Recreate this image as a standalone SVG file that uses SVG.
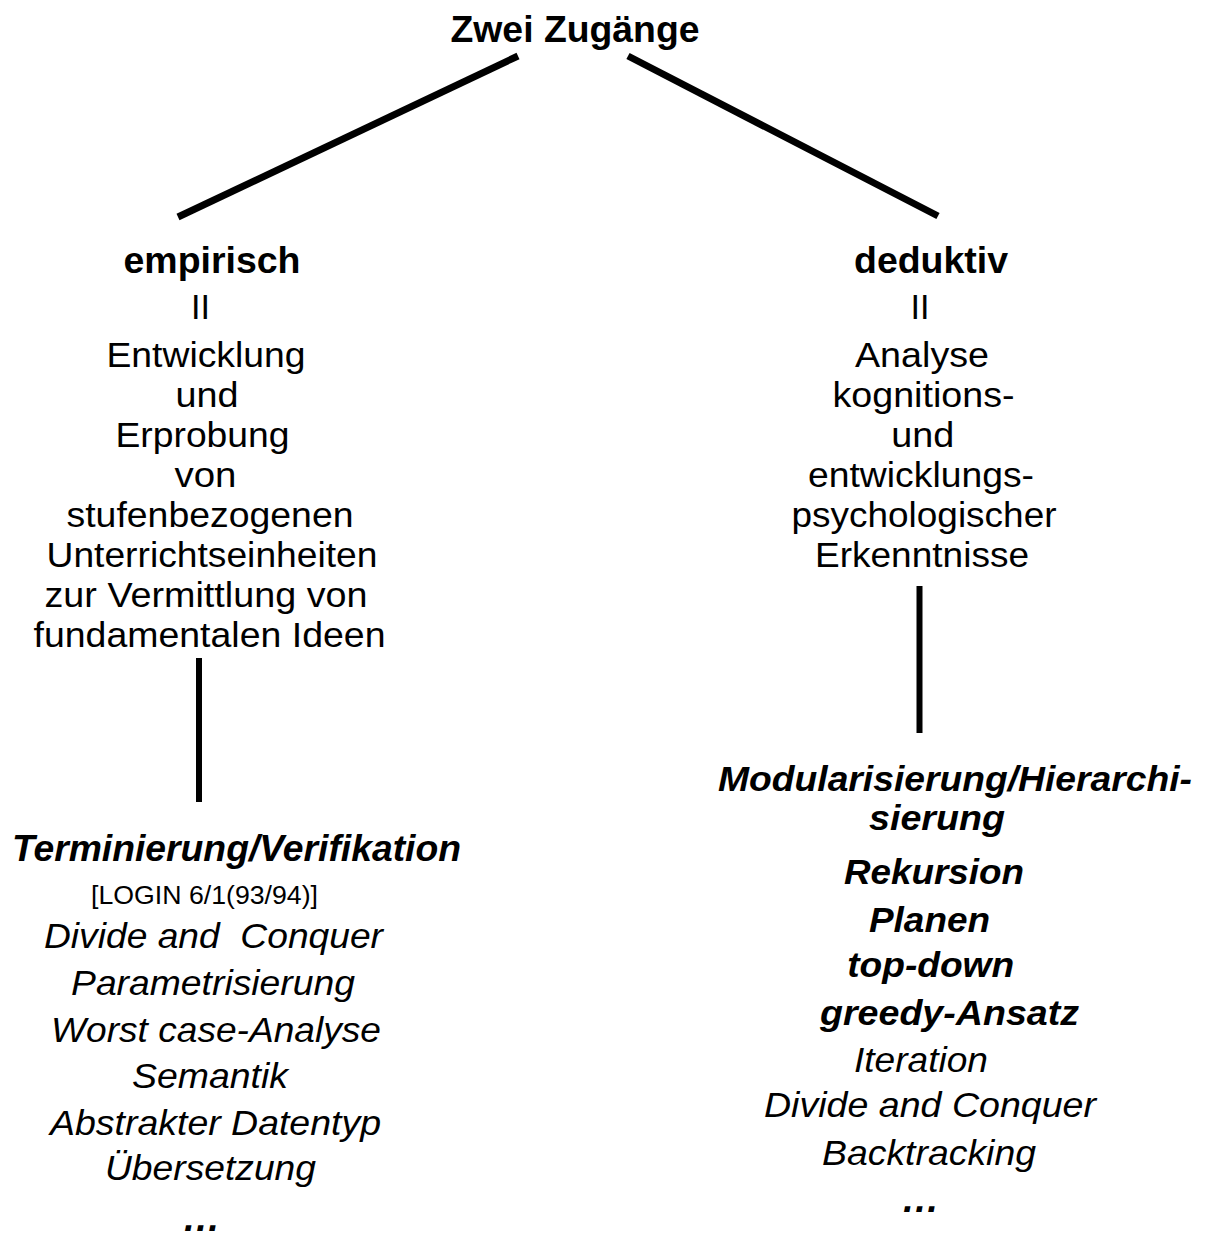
<svg xmlns="http://www.w3.org/2000/svg" width="1211" height="1239" viewBox="0 0 1211 1239">
<style>
text{font-family:"Liberation Sans",Arial,sans-serif;fill:#000;text-anchor:middle}
.h{font-weight:bold;font-size:37px}
.r{font-size:35px}
.bi{font-weight:bold;font-style:italic;font-size:35px}
.i{font-style:italic;font-size:35px}
.s{font-size:25px}
.c{stroke:#000;fill:none}
</style>
<rect width="1211" height="1239" fill="#fff"/>
<g id="connectors">
<line class="c" x1="518" y1="56" x2="178" y2="217" stroke-width="7"/>
<line class="c" x1="628" y1="56" x2="938" y2="216" stroke-width="7"/>
<line class="c" x1="199" y1="658" x2="199" y2="802" stroke-width="6"/>
<line class="c" x1="919.5" y1="586" x2="919.5" y2="733" stroke-width="6"/>
</g>
<g id="root">
<text class="h" x="575" y="42" textLength="249" lengthAdjust="spacingAndGlyphs">Zwei Zugänge</text>
</g>
<g id="empirisch">
<text class="h" x="212" y="273" textLength="177" lengthAdjust="spacingAndGlyphs">empirisch</text>
<text class="r" x="200.5" y="319" textLength="19" lengthAdjust="spacingAndGlyphs">II</text>
<text class="r" x="206" y="367" textLength="199" lengthAdjust="spacingAndGlyphs">Entwicklung</text>
<text class="r" x="207" y="407" textLength="63" lengthAdjust="spacingAndGlyphs">und</text>
<text class="r" x="202.5" y="447" textLength="174" lengthAdjust="spacingAndGlyphs">Erprobung</text>
<text class="r" x="205.5" y="487" textLength="62" lengthAdjust="spacingAndGlyphs">von</text>
<text class="r" x="210" y="527" textLength="287" lengthAdjust="spacingAndGlyphs">stufenbezogenen</text>
<text class="r" x="212" y="567" textLength="331" lengthAdjust="spacingAndGlyphs">Unterrichtseinheiten</text>
<text class="r" x="206" y="607" textLength="323" lengthAdjust="spacingAndGlyphs">zur Vermittlung von</text>
<text class="r" x="209.5" y="647" textLength="352" lengthAdjust="spacingAndGlyphs">fundamentalen Ideen</text>
</g>
<g id="empirisch-list">
<text class="bi" style="font-size:36px" x="236.5" y="861" textLength="449" lengthAdjust="spacingAndGlyphs">Terminierung/Verifikation</text>
<text class="s" x="204.5" y="904" textLength="227" lengthAdjust="spacingAndGlyphs">[LOGIN 6/1(93/94)]</text>
<text class="i" style="white-space:pre" x="213.5" y="948" textLength="339" lengthAdjust="spacingAndGlyphs">Divide and  Conquer</text>
<text class="i" x="213" y="995" textLength="284" lengthAdjust="spacingAndGlyphs">Parametrisierung</text>
<text class="i" x="216" y="1042" textLength="330" lengthAdjust="spacingAndGlyphs">Worst case-Analyse</text>
<text class="i" x="210" y="1088" textLength="156" lengthAdjust="spacingAndGlyphs">Semantik</text>
<text class="i" x="215.5" y="1135" textLength="331" lengthAdjust="spacingAndGlyphs">Abstrakter Datentyp</text>
<text class="i" x="210.5" y="1180" textLength="211" lengthAdjust="spacingAndGlyphs">Übersetzung</text>
<text class="bi" style="font-size:38px" x="201.5" y="1231">…</text>
</g>
<g id="deduktiv">
<text class="h" x="931" y="273" textLength="154" lengthAdjust="spacingAndGlyphs">deduktiv</text>
<text class="r" x="920" y="319" textLength="19" lengthAdjust="spacingAndGlyphs">II</text>
<text class="r" x="922" y="367" textLength="134" lengthAdjust="spacingAndGlyphs">Analyse</text>
<text class="r" x="923.5" y="407" textLength="182" lengthAdjust="spacingAndGlyphs">kognitions-</text>
<text class="r" x="922.7" y="447" textLength="63" lengthAdjust="spacingAndGlyphs">und</text>
<text class="r" x="921" y="487" textLength="226" lengthAdjust="spacingAndGlyphs">entwicklungs-</text>
<text class="r" x="924" y="527" textLength="265" lengthAdjust="spacingAndGlyphs">psychologischer</text>
<text class="r" x="922" y="567" textLength="214" lengthAdjust="spacingAndGlyphs">Erkenntnisse</text>
</g>
<g id="deduktiv-list">
<text class="bi" x="955" y="791" textLength="474" lengthAdjust="spacingAndGlyphs">Modularisierung/Hierarchi-</text>
<text class="bi" x="937" y="830" textLength="136" lengthAdjust="spacingAndGlyphs">sierung</text>
<text class="bi" x="934" y="884" textLength="180" lengthAdjust="spacingAndGlyphs">Rekursion</text>
<text class="bi" x="929.5" y="932" textLength="121" lengthAdjust="spacingAndGlyphs">Planen</text>
<text class="bi" x="930.7" y="977" textLength="167" lengthAdjust="spacingAndGlyphs">top-down</text>
<text class="bi" x="949.5" y="1025" textLength="259" lengthAdjust="spacingAndGlyphs">greedy-Ansatz</text>
<text class="i" x="921" y="1072" textLength="134" lengthAdjust="spacingAndGlyphs">Iteration</text>
<text class="i" x="930" y="1117" textLength="332" lengthAdjust="spacingAndGlyphs">Divide and Conquer</text>
<text class="i" x="929" y="1165" textLength="214" lengthAdjust="spacingAndGlyphs">Backtracking</text>
<text class="bi" style="font-size:38px" x="920.5" y="1212">…</text>
</g>
</svg>
